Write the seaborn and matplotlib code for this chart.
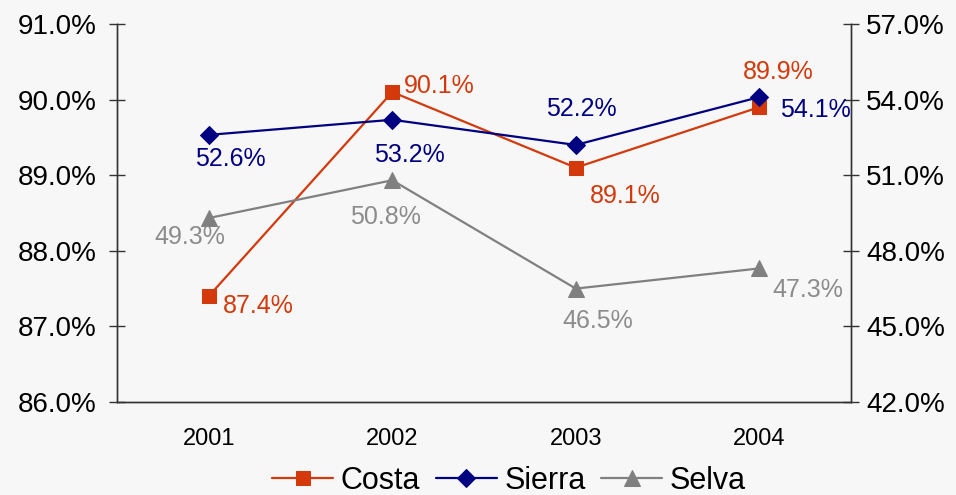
import matplotlib
matplotlib.use("Agg")
import matplotlib.pyplot as plt
import seaborn as sns
import numpy as np
from matplotlib.ticker import FuncFormatter, FixedLocator

years = ["2001", "2002", "2003", "2004"]
costa = [87.4, 90.1, 89.1, 89.9]
sierra = [52.6, 53.2, 52.2, 54.1]
selva = [49.3, 50.8, 46.5, 47.3]

sns.set_theme(style="white")
plt.rcParams['font.family'] = ['Liberation Sans', 'DejaVu Sans']
plt.rcParams['text.color'] = 'black'

BG = "#f7f7f7"
C_COSTA = "#d4390c"
C_SIERRA = "#000080"
C_SELVA = "#808080"
C_SELVA_TXT = "#8c8c8c"

fig = plt.figure(figsize=(9.56, 4.95), dpi=100, facecolor=BG)
ax = fig.add_axes([0.1224, 0.1879, 0.7678, 0.7636])
ax.set_facecolor(BG)
ax2 = ax.twinx()

xs = np.arange(len(years))
sns.lineplot(x=xs, y=costa, ax=ax, color=C_COSTA, marker="s", markersize=10.5,
             markeredgecolor=C_COSTA, linewidth=1.6, label="Costa", legend=False)
sns.lineplot(x=xs, y=sierra, ax=ax2, color=C_SIERRA, marker="D", markersize=9.5,
             markeredgecolor=C_SIERRA, linewidth=1.6, label="Sierra", legend=False)
sns.lineplot(x=xs, y=selva, ax=ax2, color=C_SELVA, marker="^", markersize=11.5,
             markeredgecolor=C_SELVA, linewidth=1.6, label="Selva", legend=False)

ax.set_xlim(-0.5, 3.5)
ax.set_ylim(86, 91)
ax2.set_ylim(42, 57)
ax.set_yticks(np.arange(86, 91.1, 1))
ax2.set_yticks(np.arange(42, 57.1, 3))
ax.yaxis.set_major_formatter(FuncFormatter(lambda v, p: f"{v:.1f}%"))
ax2.yaxis.set_major_formatter(FuncFormatter(lambda v, p: f"{v:.1f}%"))

ax.set_xticks(xs)
ax.set_xticklabels(years)
ax.xaxis.set_minor_locator(FixedLocator([-0.5, 0.5, 1.5, 2.5, 3.5]))
ax.tick_params(axis="x", which="major", length=0, labelsize=17, pad=19, labelcolor="black")
ax.tick_params(axis="x", which="minor", direction="inout", length=12, width=1, color="#333333")
ax.tick_params(axis="y", direction="inout", length=12, width=1, labelsize=20, color="#333333",
               labelcolor="black", pad=9)
ax2.tick_params(axis="y", direction="inout", length=12, width=1, labelsize=20, color="#333333",
                labelcolor="black", pad=5)

for a in (ax, ax2):
    a.set_xlabel("")
    a.set_ylabel("")
    a.grid(False)
    a.spines["top"].set_visible(False)
    for s in ("left", "right", "bottom"):
        a.spines[s].set_color("#333333")
        a.spines[s].set_linewidth(1)

fs = 18
costa_off = [(14, -10, "left", "center"), (12, 6, "left", "center"),
             (14, -28, "left", "center"), (19, 35, "center", "center")]
sierra_off = [(22, -24, "center", "center"), (17, -35, "center", "center"),
              (6, 36, "center", "center"), (21, -13, "left", "center")]
selva_off = [(-19, -19, "center", "center"), (-7, -37, "center", "center"),
             (22, -32, "center", "center"), (49, -22, "center", "center")]

for i in range(4):
    dx, dy, ha, va = costa_off[i]
    ax.annotate(f"{costa[i]:.1f}%", (xs[i], costa[i]), xytext=(dx, dy),
                textcoords="offset pixels", ha=ha, va=va, color=C_COSTA, fontsize=fs)
    dx, dy, ha, va = sierra_off[i]
    ax2.annotate(f"{sierra[i]:.1f}%", (xs[i], sierra[i]), xytext=(dx, dy),
                 textcoords="offset pixels", ha=ha, va=va, color=C_SIERRA, fontsize=fs)
    dx, dy, ha, va = selva_off[i]
    ax2.annotate(f"{selva[i]:.1f}%", (xs[i], selva[i]), xytext=(dx, dy),
                 textcoords="offset pixels", ha=ha, va=va, color=C_SELVA_TXT, fontsize=fs)

h1, l1 = ax.get_legend_handles_labels()
h2, l2 = ax2.get_legend_handles_labels()
fig.legend(h1 + h2, l1 + l2, loc="center", bbox_to_anchor=(509 / 956, 1 - 481 / 495),
           ncol=3, frameon=False, fontsize=22, handlelength=2.0, columnspacing=0.5,
           handletextpad=0.25, borderpad=0, labelcolor="black")

fig.savefig("out.png", dpi=100, facecolor=BG)
